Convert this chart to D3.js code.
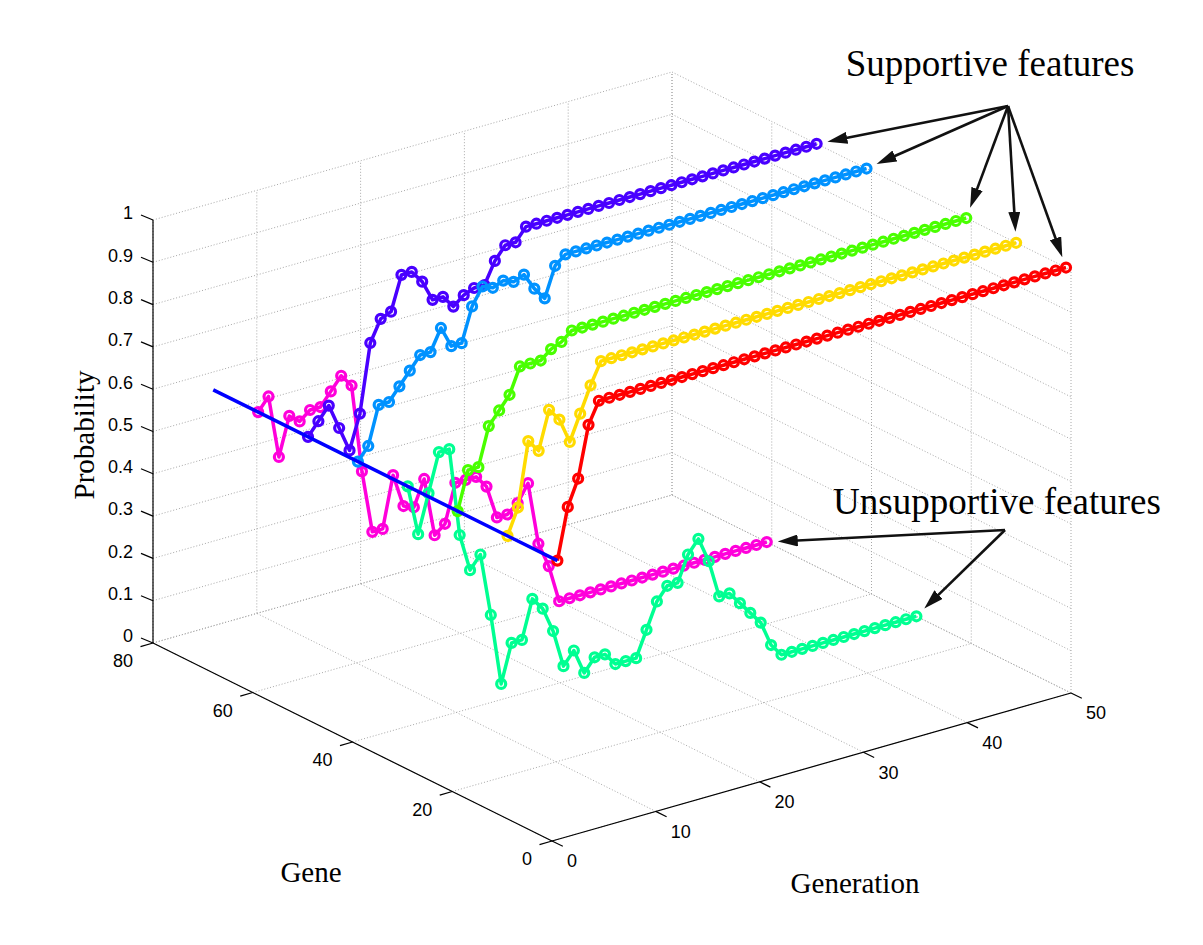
<!DOCTYPE html>
<html>
<head>
<meta charset="utf-8">
<script src="https://cdn.jsdelivr.net/npm/d3@7/dist/d3.min.js"></script>
<style>
    body { margin: 0; background: #fff; }
    text { fill: #000; }
</style>
</head>
<body>
<script>
// ---- data ----
var generations = d3.range(1, 51);
var geneTicks = [0, 20, 40, 60, 80];
var genTicks = [0, 10, 20, 30, 40, 50];
var probTicks = [0, 0.1, 0.2, 0.3, 0.4, 0.5, 0.6, 0.7, 0.8, 0.9, 1];

// gene index of each plotted feature, in drawing order
var featureGenes = [61, 51, 41, 31, 21, 11, 1];
var supportiveGenes = [51, 41, 21, 11, 1];
var unsupportiveGenes = [61, 31];

var probGene61 = [0.65, 0.68, 0.53, 0.62, 0.60, 0.62, 0.62, 0.65, 0.68, 0.65,
                  0.44, 0.29, 0.29, 0.41, 0.33, 0.32, 0.38, 0.24, 0.26, 0.35,
                  0.35, 0.35, 0.32, 0.24, 0.24, 0.26, 0.30, 0.15, 0.09, 0,
                  0, 0, 0, 0, 0, 0, 0, 0, 0, 0,
                  0, 0, 0, 0, 0, 0, 0, 0, 0, 0];
var probGene51 = [0.65, 0.68, 0.71, 0.65, 0.59, 0.67, 0.83, 0.88, 0.89, 0.97,
                  0.97, 0.94, 0.89, 0.89, 0.86, 0.88, 0.89, 0.89, 0.94, 0.97,
                  0.97, 1, 1, 1, 1, 1, 1, 1, 1, 1,
                  1, 1, 1, 1, 1, 1, 1, 1, 1, 1,
                  1, 1, 1, 1, 1, 1, 1, 1, 1, 1];
var probGene41 = [0.65, 0.68, 0.77, 0.77, 0.80, 0.83, 0.86, 0.86, 0.91, 0.86,
                  0.86, 0.94, 0.98, 0.97, 0.98, 0.97, 0.98, 0.94, 0.91, 0.98,
                  1, 1, 1, 1, 1, 1, 1, 1, 1, 1,
                  1, 1, 1, 1, 1, 1, 1, 1, 1, 1,
                  1, 1, 1, 1, 1, 1, 1, 1, 1, 1];
var probGene31 = [0.65, 0.53, 0.62, 0.71, 0.71, 0.50, 0.41, 0.44, 0.29, 0.12,
                  0.21, 0.21, 0.30, 0.27, 0.21, 0.12, 0.15, 0.09, 0.12, 0.12,
                  0.09, 0.09, 0.09, 0.15, 0.21, 0.24, 0.24, 0.30, 0.33, 0.27,
                  0.18, 0.18, 0.15, 0.12, 0.09, 0.03, 0, 0, 0, 0,
                  0, 0, 0, 0, 0, 0, 0, 0, 0, 0];
var probGene21 = [0.65, 0.74, 0.74, 0.83, 0.86, 0.89, 0.95, 0.95, 0.95, 0.97,
                  0.98, 1, 1, 1, 1, 1, 1, 1, 1, 1,
                  1, 1, 1, 1, 1, 1, 1, 1, 1, 1,
                  1, 1, 1, 1, 1, 1, 1, 1, 1, 1,
                  1, 1, 1, 1, 1, 1, 1, 1, 1, 1];
var probGene11 = [0.65, 0.71, 0.86, 0.83, 0.92, 0.89, 0.83, 0.89, 0.95, 1,
                  1, 1, 1, 1, 1, 1, 1, 1, 1, 1,
                  1, 1, 1, 1, 1, 1, 1, 1, 1, 1,
                  1, 1, 1, 1, 1, 1, 1, 1, 1, 1,
                  1, 1, 1, 1, 1, 1, 1, 1, 1, 1];
var probGene1 = [0.65, 0.77, 0.83, 0.95, 1, 1, 1, 1, 1, 1,
                 1, 1, 1, 1, 1, 1, 1, 1, 1, 1,
                 1, 1, 1, 1, 1, 1, 1, 1, 1, 1,
                 1, 1, 1, 1, 1, 1, 1, 1, 1, 1,
                 1, 1, 1, 1, 1, 1, 1, 1, 1, 1];

// initial probability line (first generation, across genes)
var initGenes = [1, 70];
var initProb = [0.65, 0.65];

var probByGene = {61: probGene61, 51: probGene51, 41: probGene41, 31: probGene31,
                  21: probGene21, 11: probGene11, 1: probGene1};

// ---- drawing ----
var width = 1203,
    height = 945,
    origin = [552, 841],
    markerRadius = 4.5;

//fixed oblique view, like the matlab 3d axes
var geneX = d3.scaleLinear().domain([0, 80]).range([0, -399]),
    geneY = d3.scaleLinear().domain([0, 80]).range([0, -198]),
    genX = d3.scaleLinear().domain([0, 50]).range([0, 519]),
    genY = d3.scaleLinear().domain([0, 50]).range([0, -148]),
    probY = d3.scaleLinear().domain([0, 1]).range([0, -423]);

function proj(gene, gen, p) {
    return [origin[0] + geneX(gene) + genX(gen),
            origin[1] + geneY(gene) + genY(gen) + probY(p)];
}

function colorOf(gene) {
    var i = (gene - 1) / 10;
    return d3.hsl(i * 360 / 7, 1, 0.5).toString();
}

var svg = d3.select("body").append("svg")
            .attr("width", width)
            .attr("height", height)
            .style("font-family", "'Liberation Sans', Arial, sans-serif");

svg.append("rect").attr("width", width).attr("height", height).attr("fill", "#fff");

// grid
var grid = [];
probTicks.forEach(function(p) {
    grid.push([proj(80, 0, p), proj(80, 50, p)]);
    grid.push([proj(80, 50, p), proj(0, 50, p)]);
});
genTicks.forEach(function(t) {
    grid.push([proj(80, t, 0), proj(80, t, 1)]);
    grid.push([proj(0, t, 0), proj(80, t, 0)]);
});
geneTicks.forEach(function(g) {
    grid.push([proj(g, 50, 0), proj(g, 50, 1)]);
    grid.push([proj(g, 0, 0), proj(g, 50, 0)]);
});

svg.append("g").attr("class", "grid")
   .selectAll("line")
   .data(grid)
   .enter().append("line")
   .attr("x1", function(d) {return d[0][0]; })
   .attr("y1", function(d) {return d[0][1]; })
   .attr("x2", function(d) {return d[1][0]; })
   .attr("y2", function(d) {return d[1][1]; })
   .style("stroke", "#a8a8a8")
   .style("stroke-width", 1)
   .style("stroke-dasharray", "1,2");

// axes
var axes = svg.append("g").attr("class", "axes")
              .style("stroke", "#000").style("stroke-width", 1.2);
[[proj(80, 0, 0), proj(80, 0, 1)],
 [proj(0, 0, 0), proj(80, 0, 0)],
 [proj(0, 0, 0), proj(0, 50, 0)]].forEach(function(s) {
    axes.append("line")
        .attr("x1", s[0][0]).attr("y1", s[0][1])
        .attr("x2", s[1][0]).attr("y2", s[1][1]);
});

var tickFont = 18;

// probability ticks
probTicks.forEach(function(p) {
    var pt = proj(80, 0, p);
    axes.append("line")
        .attr("x1", pt[0]).attr("y1", pt[1])
        .attr("x2", pt[0] - 12).attr("y2", pt[1] - 5);
    svg.append("text")
       .attr("x", pt[0] - 20)
       .attr("y", pt[1] - 7)
       .attr("dy", "0.35em")
       .attr("text-anchor", "end")
       .style("font-size", tickFont + "px")
       .text(d3.format("~g")(p));
});

// gene ticks
geneTicks.forEach(function(g) {
    var pt = proj(g, 0, 0);
    axes.append("line")
        .attr("x1", pt[0]).attr("y1", pt[1])
        .attr("x2", pt[0] - 12.5).attr("y2", pt[1] + 3.6);
    svg.append("text")
       .attr("x", pt[0] - 20)
       .attr("y", pt[1] + 18)
       .attr("dy", "0.35em")
       .attr("text-anchor", "end")
       .style("font-size", tickFont + "px")
       .text(g);
});

// generation ticks
genTicks.forEach(function(t) {
    var pt = proj(0, t, 0);
    axes.append("line")
        .attr("x1", pt[0]).attr("y1", pt[1])
        .attr("x2", pt[0] + 10.8).attr("y2", pt[1] + 5.3);
    svg.append("text")
       .attr("x", pt[0] + 15)
       .attr("y", pt[1] + 20)
       .attr("dy", "0.35em")
       .attr("text-anchor", "start")
       .style("font-size", tickFont + "px")
       .text(t);
});

// axis titles
var serif = "'Liberation Serif', 'Times New Roman', serif";
svg.append("text")
   .attr("transform", "translate(94,435) rotate(-90)")
   .attr("text-anchor", "middle")
   .style("font-family", serif).style("font-size", "29px")
   .text("Probability");
svg.append("text")
   .attr("x", 311).attr("y", 882)
   .attr("text-anchor", "middle")
   .style("font-family", serif).style("font-size", "29px")
   .text("Gene");
svg.append("text")
   .attr("x", 855).attr("y", 893)
   .attr("text-anchor", "middle")
   .style("font-family", serif).style("font-size", "29px")
   .text("Generation");

// feature lines
var line = d3.line()
             .x(function(d) {return d[0]; })
             .y(function(d) {return d[1]; });

var features = svg.selectAll(".feature")
                  .data(featureGenes)
                  .enter().append("g")
                  .attr("class", "feature")
                  .style("stroke", function(g) {return colorOf(g); });

features.each(function(g) {
    var pts = generations.map(function(t, i) {return proj(g, t, probByGene[g][i]); });
    var sel = d3.select(this);
    sel.append("path")
       .attr("d", line(pts))
       .style("fill", "none")
       .style("stroke-width", 3.5)
       .style("stroke-linejoin", "round");
    sel.selectAll("circle")
       .data(pts)
       .enter().append("circle")
       .attr("cx", function(d) {return d[0]; })
       .attr("cy", function(d) {return d[1]; })
       .attr("r", markerRadius)
       .style("fill", "none")
       .style("stroke-width", 3.2);
});

// initial probability line
svg.append("path")
   .attr("d", line(initGenes.map(function(g, i) {return proj(g, 1, initProb[i]); })))
   .style("fill", "none")
   .style("stroke", "#0000ff")
   .style("stroke-width", 3.5);

// annotations
var defs = svg.append("defs");
defs.append("marker")
    .attr("id", "arrowhead")
    .attr("viewBox", "0 -6 20 12")
    .attr("refX", 10)
    .attr("refY", 0)
    .attr("markerWidth", 20)
    .attr("markerHeight", 12)
    .attr("markerUnits", "userSpaceOnUse")
    .attr("orient", "auto")
    .append("path")
    .attr("d", "M0,-6L20,0L0,6Z")
    .style("fill", "#111");

function arrows(from, genes) {
    genes.forEach(function(g) {
        var probs = probByGene[g],
            end = proj(g, generations[generations.length - 1], probs[probs.length - 1]),
            dx = from[0] - end[0],
            dy = from[1] - end[1],
            len = Math.sqrt(dx * dx + dy * dy),
            tip = [end[0] + dx / len * 11, end[1] + dy / len * 11];
        svg.append("line")
           .attr("x1", from[0]).attr("y1", from[1])
           .attr("x2", tip[0] + dx / len * 10).attr("y2", tip[1] + dy / len * 10)
           .style("stroke", "#111")
           .style("stroke-width", 2.6)
           .attr("marker-end", "url(#arrowhead)");
    });
}

arrows([1008, 106], supportiveGenes);
arrows([1005, 530], unsupportiveGenes);

svg.append("text")
   .attr("x", 990).attr("y", 76)
   .attr("text-anchor", "middle")
   .style("font-family", serif).style("font-size", "37px")
   .text("Supportive features");
svg.append("text")
   .attr("x", 997).attr("y", 514)
   .attr("text-anchor", "middle")
   .style("font-family", serif).style("font-size", "37px")
   .text("Unsupportive features");
</script>
</body>
</html>
